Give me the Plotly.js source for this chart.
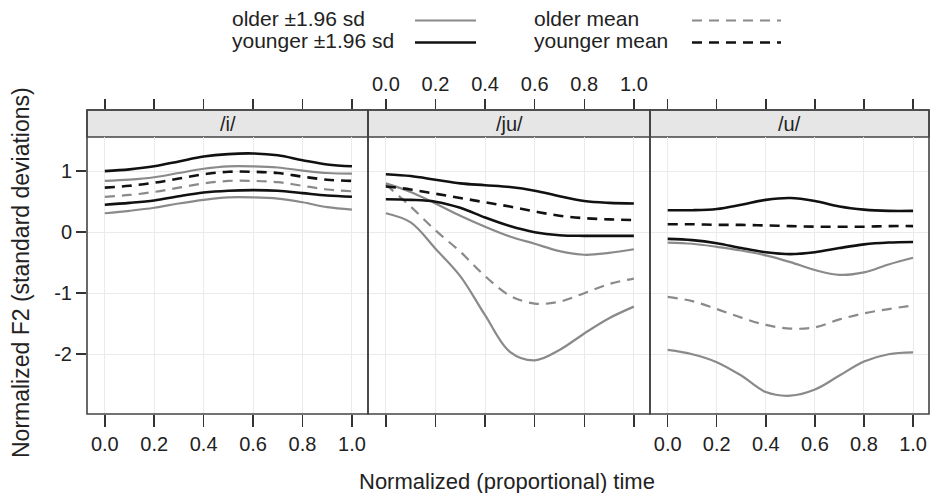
<!DOCTYPE html>
<html><head><meta charset="utf-8">
<script src="https://cdn.plot.ly/plotly-3.0.1.min.js"></script>
<style>html,body{margin:0;padding:0;background:#fff}#chart{width:930px;height:493px}</style>
</head><body><div id="chart"></div><script>
// ---- data ----
const timePoints = [0, 0.1, 0.2, 0.3, 0.4, 0.5, 0.6, 0.7, 0.8, 0.9, 1.0];
const panelLabels = ['/i/', '/ju/', '/u/'];
const xTickVals = [0, 0.2, 0.4, 0.6, 0.8, 1.0];
const xTickText = ['0.0', '0.2', '0.4', '0.6', '0.8', '1.0'];
const yTickVals = [-2, -1, 0, 1];
const yTickText = ['-2', '-1', '0', '1'];

// /i/
const iYoungUpper = [1.00, 1.03, 1.08, 1.16, 1.24, 1.28, 1.29, 1.26, 1.18, 1.11, 1.08];
const iOlderUpper = [0.84, 0.86, 0.90, 0.97, 1.04, 1.08, 1.08, 1.06, 1.01, 0.97, 0.96];
const iYoungMean  = [0.73, 0.76, 0.81, 0.88, 0.95, 0.99, 0.99, 0.97, 0.91, 0.86, 0.84];
const iOlderMean  = [0.58, 0.61, 0.66, 0.73, 0.80, 0.84, 0.84, 0.82, 0.76, 0.70, 0.67];
const iYoungLower = [0.45, 0.48, 0.52, 0.59, 0.65, 0.68, 0.69, 0.68, 0.64, 0.60, 0.58];
const iOlderLower = [0.31, 0.35, 0.40, 0.47, 0.53, 0.57, 0.57, 0.55, 0.49, 0.41, 0.37];
// /ju/
const juYoungUpper = [0.95, 0.92, 0.86, 0.80, 0.77, 0.74, 0.68, 0.59, 0.51, 0.48, 0.47];
const juOlderUpper = [0.80, 0.66, 0.47, 0.27, 0.09, -0.07, -0.19, -0.31, -0.37, -0.34, -0.28];
const juYoungMean  = [0.75, 0.70, 0.63, 0.56, 0.49, 0.42, 0.34, 0.27, 0.23, 0.21, 0.20];
const juOlderMean  = [0.78, 0.42, 0.03, -0.32, -0.72, -1.04, -1.17, -1.14, -1.00, -0.85, -0.76];
const juYoungLower = [0.54, 0.53, 0.50, 0.40, 0.24, 0.10, 0.00, -0.05, -0.06, -0.06, -0.06];
const juOlderLower = [0.31, 0.16, -0.27, -0.72, -1.36, -1.96, -2.10, -1.93, -1.66, -1.41, -1.22];
// /u/
const uYoungUpper = [0.36, 0.36, 0.38, 0.45, 0.53, 0.56, 0.51, 0.42, 0.37, 0.35, 0.35];
const uOlderUpper = [-0.17, -0.19, -0.24, -0.30, -0.38, -0.49, -0.62, -0.70, -0.66, -0.53, -0.42];
const uYoungMean  = [0.13, 0.13, 0.12, 0.12, 0.11, 0.10, 0.09, 0.09, 0.09, 0.10, 0.10];
const uOlderMean  = [-1.06, -1.13, -1.26, -1.40, -1.52, -1.58, -1.56, -1.43, -1.33, -1.26, -1.20];
const uYoungLower = [-0.11, -0.13, -0.18, -0.26, -0.33, -0.36, -0.33, -0.26, -0.20, -0.17, -0.16];
const uOlderLower = [-1.93, -2.00, -2.13, -2.35, -2.62, -2.68, -2.58, -2.35, -2.12, -2.00, -1.97];

const panelSeries = [
  [iOlderUpper, iOlderLower, iOlderMean, iYoungUpper, iYoungLower, iYoungMean],
  [juOlderUpper, juOlderLower, juOlderMean, juYoungUpper, juYoungLower, juYoungMean],
  [uOlderUpper, uOlderLower, uOlderMean, uYoungUpper, uYoungLower, uYoungMean]
];

// ---- styling ----
const W = 930, H = 493;
const GRAY = '#8a8a8a', BLACK = '#111111', TXT = '#222222', AXC = '#333333';
const seriesStyle = [
  {color: GRAY, width: 2.2, dash: 'solid'}, {color: GRAY, width: 2.2, dash: 'solid'}, {color: GRAY, width: 2.2, dash: '10px,7px'},
  {color: BLACK, width: 2.6, dash: 'solid'}, {color: BLACK, width: 2.6, dash: 'solid'}, {color: BLACK, width: 2.6, dash: '10px,7px'}
];
const panelEdges = [87, 368, 650, 929];
const plotTop = 137, plotBottom = 414, stripTop = 110;
const px = v => v / W, py = v => 1 - v / H;
const TICKF = 20;
const xr = [-0.072, 1.065];

const traces = [];
const carrier = (xa, ya, vals) => ({x: timePoints, y: vals, xaxis: xa, yaxis: ya, type: 'scatter', mode: 'lines',
  line: {width: 0, color: 'rgba(0,0,0,0)'}, opacity: 0, hoverinfo: 'skip', showlegend: false});
panelSeries.forEach((ser, p) => {
  const xa = p === 0 ? 'x' : 'x' + (p + 1);
  ser.forEach((vals, s) => {
    traces.push({x: timePoints, y: vals, xaxis: xa, yaxis: 'y', type: 'scatter', mode: 'lines',
      line: {color: seriesStyle[s].color, width: seriesStyle[s].width, dash: seriesStyle[s].dash, shape: 'spline', smoothing: 1},
      hoverinfo: 'skip', showlegend: false});
  });
  traces.push(carrier('x' + (p + 4), 'y' + (p + 2), ser[0]));
});
traces.push(carrier('x7', 'y5', panelSeries[1][0]));
traces.push(carrier('x8', 'y6', panelSeries[1][0]));

const font = {family: 'Liberation Sans, Arial, sans-serif', color: TXT};
const layout = {
  width: W, height: H, margin: {l: 0, r: 0, t: 0, b: 0},
  paper_bgcolor: '#fff', plot_bgcolor: 'rgba(0,0,0,0)', showlegend: false, font: font,
  yaxis: {domain: [py(plotBottom), py(plotTop)], range: [-2.98, 1.56], anchor: 'x',
    tickvals: yTickVals, ticktext: yTickText, ticks: 'outside', ticklen: 10, tickcolor: AXC, tickwidth: 1.5,
    tickfont: {size: TICKF, color: TXT}, showgrid: true, gridcolor: '#ebebeb', gridwidth: 1, zeroline: false,
    showline: false, fixedrange: true, automargin: false}
};
const topTickAxis = (dom, yId) => ({anchor: yId, side: 'top', domain: dom, range: xr,
  tickvals: xTickVals, ticktext: xTickText, ticks: 'outside', ticklen: 10, tickcolor: AXC, tickwidth: 1.5,
  showticklabels: false, tickfont: {size: TICKF, color: TXT},
  showgrid: false, zeroline: false, showline: false, fixedrange: true, automargin: false});
const stripY = xId => ({domain: [py(plotTop), py(stripTop)], range: [100, 101], anchor: xId,
  visible: false, showgrid: false, zeroline: false, fixedrange: true});
for (let p = 0; p < 3; p++) {
  const n = p + 1;
  const dom = [px(panelEdges[p]), px(panelEdges[p + 1])];
  layout[n === 1 ? 'xaxis' : 'xaxis' + n] = {domain: dom, range: xr, anchor: 'y',
    tickvals: xTickVals, ticktext: xTickText, ticks: 'outside', ticklen: 12, tickcolor: AXC, tickwidth: 1.5,
    showticklabels: p !== 1, tickfont: {size: TICKF, color: TXT},
    showgrid: true, gridcolor: '#ebebeb', gridwidth: 1, zeroline: false, showline: false, fixedrange: true, automargin: false};
  layout['yaxis' + (p + 2)] = stripY('x' + (p + 4));
  layout['xaxis' + (n + 3)] = topTickAxis(dom, 'y' + (p + 2));
}
const midDom = [px(panelEdges[1]), px(panelEdges[2])];
// top labels + ticks of the middle panel
layout.yaxis5 = stripY('x7');
layout.xaxis7 = Object.assign(topTickAxis(midDom, 'y5'), {showticklabels: true});
layout.yaxis6 = stripY('x8');
layout.xaxis8 = topTickAxis(midDom, 'y6');

const shapes = [], annotations = [];
for (let p = 0; p < 3; p++) {
  const x0 = px(panelEdges[p]), x1 = px(panelEdges[p + 1]);
  shapes.push({type: 'rect', xref: 'paper', yref: 'paper', x0: x0, x1: x1, y0: py(plotTop), y1: py(stripTop),
    fillcolor: '#e6e6e6', line: {color: '#444', width: 1.5}, layer: 'below'});
  shapes.push({type: 'rect', xref: 'paper', yref: 'paper', x0: x0, x1: x1, y0: py(plotBottom), y1: py(stripTop),
    fillcolor: 'rgba(0,0,0,0)', line: {color: '#444', width: 1.6}, layer: 'above'});
  annotations.push({xref: 'paper', yref: 'paper', x: (x0 + x1) / 2, y: py((plotTop + stripTop) / 2),
    text: panelLabels[p], showarrow: false, font: {size: 20, color: TXT}, xanchor: 'center', yanchor: 'middle'});
}
// key
const keyItems = [
  {text: 'older ±1.96 sd', tx: 230, ty: 19, lx0: 415, lx1: 476, st: seriesStyle[0]},
  {text: 'younger ±1.96 sd', tx: 230, ty: 41, lx0: 415, lx1: 476, st: seriesStyle[3]},
  {text: 'older mean', tx: 532, ty: 19, lx0: 692, lx1: 781, st: seriesStyle[2]},
  {text: 'younger mean', tx: 532, ty: 41, lx0: 692, lx1: 781, st: seriesStyle[5]}
];
keyItems.forEach(k => {
  annotations.push({xref: 'paper', yref: 'paper', x: px(k.tx), y: py(k.ty), text: k.text, showarrow: false,
    xanchor: 'left', yanchor: 'middle', font: {size: 21, color: TXT}});
  shapes.push({type: 'line', xref: 'paper', yref: 'paper', x0: px(k.lx0), x1: px(k.lx1), y0: py(k.ty + 1.5), y1: py(k.ty + 1.5),
    line: {color: k.st.color, width: k.st.width, dash: k.st.dash}});
});
annotations.push({xref: 'paper', yref: 'paper', x: px(507), y: py(481), text: 'Normalized (proportional) time',
  showarrow: false, xanchor: 'center', yanchor: 'middle', font: {size: 22, color: TXT}});
annotations.push({xref: 'paper', yref: 'paper', x: px(21), y: py(273), text: 'Normalized F2 (standard deviations)',
  showarrow: false, textangle: -90, xanchor: 'center', yanchor: 'middle', font: {size: 23, color: TXT}});
layout.shapes = shapes;
layout.annotations = annotations;

Plotly.newPlot('chart', traces, layout, {staticPlot: true, displayModeBar: false});
</script></body></html>
